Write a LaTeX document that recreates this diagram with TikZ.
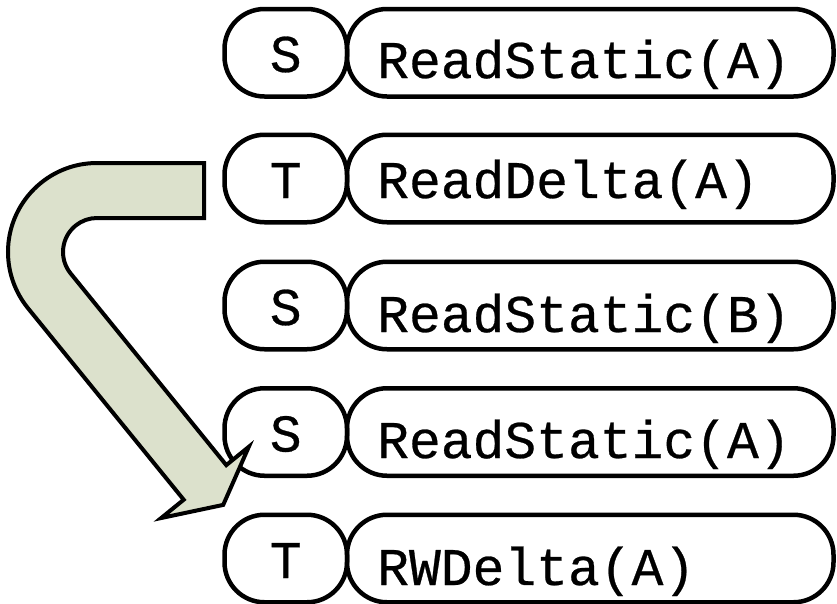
\documentclass[tikz,border=0pt]{standalone}
\usepackage{fontspec}
\newfontfamily\codefont[FakeBold=0.5]{Liberation Mono}
\definecolor{flowfill}{RGB}{220,225,204}
\tikzset{
  box/.style={draw=black, line width=4.5pt, rounded corners=40pt, inner sep=0pt},
  tagbox/.style={box, minimum width=122.5pt, minimum height=87.5pt},
  callbox/.style={box, minimum width=486.5pt, minimum height=87.5pt},
  code/.style={font=\codefont\fontsize{53}{60}\selectfont, inner sep=0pt},
  calltext/.style={code, anchor=base west},
  tagtext/.style={code, anchor=base},
  flow/.style={draw=black, line width=4pt, fill=flowfill, line join=miter}
}
\begin{document}
\begin{tikzpicture}[x=1pt, y=-1pt]
  \useasboundingbox[fill=white] (0,0) rectangle (837,603);

  % boxes: tag on the left, operation on the right
  \foreach \r/\c in {1/52.75, 2/178.5, 3/305.5, 4/432, 5/558.5} {
    \node[tagbox]  (tag\r)  at (285.75,\c) {};
    \node[callbox] (call\r) at (590.25,\c) {};
  }

  % bent block arrow
  \draw[flow] (204,163) -- (97,163)
      arc[start angle=270, end angle=141, radius=89]
      -- (183.7,499.7) -- (161.2,518) -- (223.2,504.9) -- (248.8,446.8)
      -- (226.3,465.1) -- (70.6,273.4)
      arc[start angle=141, end angle=270, radius=34]
      -- (204,218) -- cycle;

  % tag letters
  \node[tagtext] (t1) at (285.75,72)  {S};
  \node[tagtext] (t2) at (285.75,198) {T};
  \node[tagtext] (t3) at (285.75,325) {S};
  \node[tagtext] (t4) at (285.75,451.5) {S};
  \node[tagtext] (t5) at (285.75,578) {T};

  % operations
  \node[calltext] (o1) at (377,78)  {ReadStatic(A)};
  \node[calltext] (o2) at (377,198) {ReadDelta(A)};
  \node[calltext] (o3) at (377,332) {ReadStatic(B)};
  \node[calltext] (o4) at (377,458) {ReadStatic(A)};
  \node[calltext] (o5) at (377,585) {RWDelta(A)};
\end{tikzpicture}
\end{document}
